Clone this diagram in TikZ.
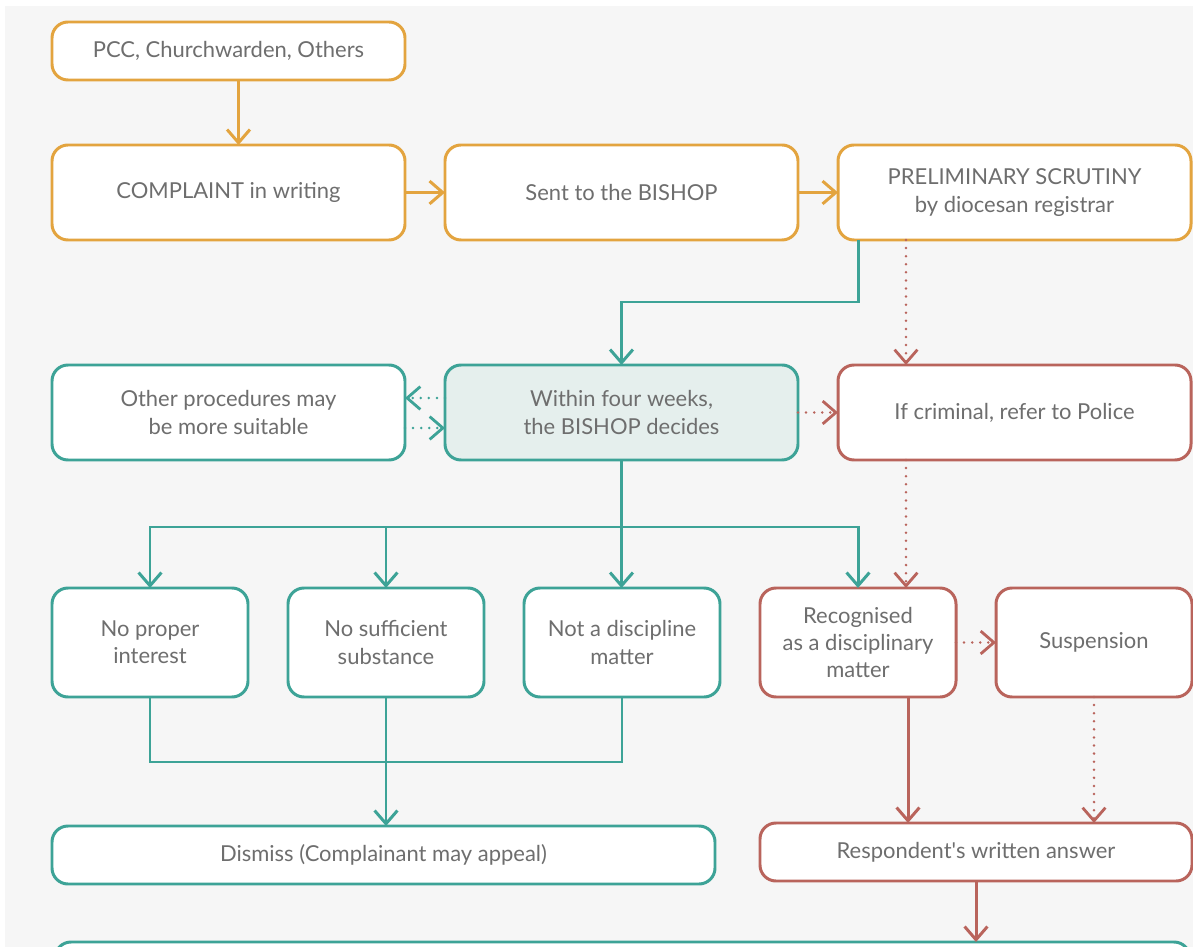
\documentclass[tikz,border=0pt]{standalone}
\usepackage{fontspec}
\setmainfont{Lato}[Ligatures=TeXOff]
\usetikzlibrary{arrows.meta,positioning}
\definecolor{gold}{HTML}{E3A43F}
\definecolor{teal}{HTML}{3DA397}
\definecolor{rust}{HTML}{B9645C}
\definecolor{tealfill}{HTML}{E5EFED}
\definecolor{txt}{HTML}{6E6E6E}
\definecolor{bg}{HTML}{F6F6F6}

\begin{document}
\begin{tikzpicture}[>={Straight Barb[length=7.5pt,width=13pt]}]
	\tikzset{box/.style={rectangle, draw, line width=1.7pt, rounded corners=0.32cm, fill=white,
			align=center, text=txt, font=\fontsize{12.5}{15.5}\selectfont, inner sep=0pt, outer sep=0pt},
		bigbox/.style={box, minimum width=7.06cm, minimum height=1.9cm},
		smallbox/.style={box, minimum width=3.92cm, minimum height=2.18cm},
		flatbox/.style={box, minimum height=1.16cm},
		gbox/.style={draw=gold}, tbox/.style={draw=teal}, rbox/.style={draw=rust},
		gline/.style={draw=gold, line width=1.7pt},
		tline/.style={draw=teal, line width=1.7pt},
		rline/.style={draw=rust, line width=1.7pt},
		dots/.style={line width=1.6pt, dash pattern=on 0pt off 4.6pt, line cap=round},
	}
	\clip (0,0) rectangle (23.86,-18.94);
	\fill[bg] (0.1,-0.12) rectangle (23.86,-18.94);

	\node [flatbox, gbox, minimum width=7.06cm] (pcc) at (4.57,-1.02) {PCC, Churchwarden, Others};
	\node [bigbox, gbox, below = 1.3cm of pcc] (compl) {COMPLAINT in writing};
	\node [bigbox, gbox, right = .8cm of compl] (sent) {Sent to the BISHOP};
	\node [bigbox, gbox, right = .8cm of sent] (prelim) {PRELIMINARY SCRUTINY\\by diocesan registrar};
	\node [bigbox, tbox, below = 2.5cm of compl] (other) {Other procedures may\\be more suitable};
	\node [bigbox, tbox, fill=tealfill, right = .8cm of other] (within) {Within four weeks,\\the BISHOP decides};
	\node [bigbox, rbox, right = .8cm of within] (police) {If criminal, refer to Police};
	\node [smallbox, tbox, below = 2.56cm of other.south west, anchor=north west] (proper) {No proper\\interest};
	\node [smallbox, tbox, right = .8cm of proper] (subst) {No sufficient\\substance};
	\node [smallbox, tbox, right = .8cm of subst] (notdisc) {Not a discipline\\matter};
	\node [smallbox, rbox, right = .8cm of notdisc] (recog) {Recognised\\as a disciplinary\\matter};
	\node [smallbox, rbox, right = .8cm of recog] (susp) {Suspension};
	\node [flatbox, tbox, minimum width=13.26cm, below = 2.58cm of proper.south west, anchor=north west] (dismiss) {Dismiss (Complainant may appeal)};
	\node [flatbox, rbox, minimum width=8.64cm, below = 2.52cm of recog.south west, anchor=north west] (resp) {Respondent's written answer};
	\node [flatbox, tbox, minimum width=22.7cm, below = 1.16cm of dismiss.south west, xshift=.06cm, anchor=north west] (next) {};

	\draw [gline, ->] ([xshift=.2cm]pcc.south) -- ([xshift=.2cm]compl.north);
	\draw [gline, ->] (compl) -- (sent);
	\draw [gline, ->] (sent) -- (prelim);
	\draw [tline, ->] ([xshift=-3.13cm]prelim.south) -- ++(0,-1.24) -| (within.north);
	\draw [rline, dots, ->] ([xshift=-2.17cm]prelim.south) -- ([xshift=-2.17cm]police.north);
	\draw [tline, dots, ->] ([yshift=.29cm]within.west) -- ([yshift=.29cm]other.east);
	\draw [tline, dots, ->] ([yshift=-.31cm]other.east) -- ([yshift=-.31cm]within.west);
	\draw [rline, dots, ->] (within) -- (police);

	\draw [tline] (within.south) -- ++(0,-1.34) coordinate (split);
	\draw [tline, ->] (split) -| (proper.north);
	\draw [tline, ->] (split) -| (subst.north);
	\draw [tline, ->] (split) -- (split |- notdisc.north);
	\draw [tline, ->] (split) -| (recog.north);
	\draw [rline, dots, ->] ([xshift=-2.17cm]police.south) -- ([xshift=-2.17cm]police.south |- recog.north);
	\draw [rline, dots, ->] (recog) -- (susp);

	\draw [tline] (proper.south) -- ++(0,-1.3) -| (notdisc.south);
	\draw [tline, ->] (subst.south) -- (subst.south |- dismiss.north);
	\draw [rline, ->] ([xshift=1cm]recog.south) -- ([xshift=1cm]recog.south |- resp.north);
	\draw [rline, dots, ->] (susp.south) -- (susp.south |- resp.north);
	\draw [rline, ->] (resp.south) -- (resp.south |- next.north);
\end{tikzpicture}
\end{document}
